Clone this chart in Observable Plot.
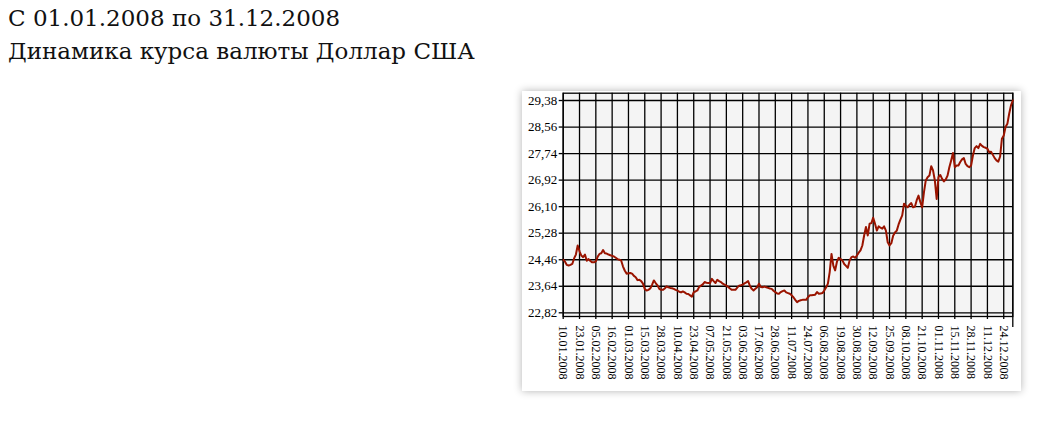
<!DOCTYPE html>
<html><head><meta charset="utf-8">
<script src="https://cdn.jsdelivr.net/npm/d3@7"></script>
<script src="https://cdn.jsdelivr.net/npm/@observablehq/plot@0.6"></script>
<style>
body{margin:0;background:#fff;width:1037px;height:428px;overflow:hidden;position:relative}
.t{position:absolute;left:8px;font-family:Georgia,"DejaVu Serif",serif;font-size:23px;color:#111;white-space:nowrap;line-height:1}
#card{position:absolute;left:522px;top:91px;width:499px;height:300px;background:#fff;box-shadow:0 0 8px rgba(0,0,0,0.3)}
#card svg{display:block}
</style></head><body>
<div class="t" style="top:6.5px">С 01.01.2008 по 31.12.2008</div>
<div class="t" style="top:40px">Динамика курса валюты Доллар США</div>
<div id="card"></div>
<script>
const tickLabels = ["10.01.2008","23.01.2008","05.02.2008","16.02.2008","01.03.2008","15.03.2008","28.03.2008","10.04.2008","23.04.2008","07.05.2008","21.05.2008","03.06.2008","17.06.2008","28.06.2008","11.07.2008","24.07.2008","06.08.2008","19.08.2008","30.08.2008","12.09.2008","25.09.2008","08.10.2008","21.10.2008","01.11.2008","15.11.2008","28.11.2008","11.12.2008","24.12.2008"];
const tickIndex = [0,9,18,27,36,45,54,63,72,81,90,99,108,117,126,135,144,153,162,171,180,189,198,207,216,225,234,243];
const yTicks = [22.82,23.64,24.46,25.28,26.10,26.92,27.74,28.56,29.38];
const rates = [
24.46,24.40,24.30,24.28,24.30,24.33,24.50,24.62,24.90,24.72,
24.59,24.54,24.62,24.43,24.48,24.42,24.38,24.38,24.41,24.55,
24.64,24.66,24.76,24.66,24.65,24.62,24.60,24.58,24.56,24.52,
24.48,24.46,24.43,24.25,24.12,24.03,24.04,24.05,24.03,23.96,
23.92,23.83,23.84,23.80,23.72,23.55,23.51,23.53,23.57,23.68,
23.82,23.74,23.67,23.56,23.53,23.53,23.57,23.64,23.61,23.59,
23.58,23.56,23.53,23.51,23.47,23.45,23.48,23.45,23.41,23.40,
23.36,23.32,23.46,23.48,23.51,23.62,23.66,23.70,23.77,23.75,
23.74,23.74,23.87,23.80,23.74,23.84,23.80,23.77,23.72,23.69,
23.66,23.62,23.57,23.53,23.53,23.53,23.60,23.66,23.67,23.69,
23.73,23.76,23.80,23.65,23.56,23.51,23.56,23.61,23.72,23.62,
23.61,23.63,23.61,23.59,23.57,23.56,23.50,23.46,23.42,23.41,
23.46,23.49,23.51,23.45,23.43,23.41,23.36,23.30,23.22,23.15,
23.19,23.21,23.22,23.22,23.22,23.30,23.36,23.36,23.37,23.38,
23.46,23.41,23.42,23.43,23.51,23.60,23.72,24.08,24.64,24.28,
24.13,24.40,24.52,24.48,24.44,24.33,24.27,24.21,24.44,24.54,
24.56,24.52,24.59,24.68,24.75,24.90,25.21,25.47,25.21,25.57,
25.59,25.76,25.57,25.36,25.49,25.45,25.42,25.49,25.36,25.00,
24.90,24.97,25.20,25.30,25.36,25.55,25.70,25.83,26.19,26.13,
26.08,26.16,26.21,26.08,26.10,26.30,26.44,26.24,26.08,26.55,
26.91,27.01,27.06,27.35,27.22,26.91,26.34,27.01,27.08,26.96,
26.88,26.94,27.06,27.32,27.53,27.76,27.32,27.37,27.37,27.48,
27.56,27.60,27.42,27.35,27.32,27.37,27.68,27.91,27.97,27.91,
28.04,27.98,27.94,27.92,27.89,27.78,27.80,27.70,27.60,27.53,
27.49,27.65,28.20,28.30,28.56,28.66,28.97,29.23,29.38
];
const data = rates.map((v, i) => ({i, v}));
const last = rates.length - 1;
const gridStyle = {stroke: "#000", strokeOpacity: 1, strokeWidth: 1.3};
const chart = Plot.plot({
  width: 499, height: 300,
  marginLeft: 40.7, marginTop: 1.7, marginRight: 8.7, marginBottom: 75,
  x: {domain: [0, last]},
  y: {domain: [22.706, 29.606]},
  style: {fontFamily: '"Liberation Serif", "Times New Roman", serif', fontSize: "12px", color: "#000", background: "transparent", overflow: "visible"},
  marks: [
    Plot.frame({fill: "#f4f4f4", stroke: "none"}),
    Plot.gridX(tickIndex, gridStyle),
    Plot.gridY(yTicks, gridStyle),
    Plot.frame({stroke: "#000", strokeWidth: 1.3}),
    Plot.ruleX([last], {insetBottom: -11, stroke: "#000", strokeWidth: 1.3}),
    Plot.line(data, {x: "i", y: "v", stroke: "#9a1400", strokeWidth: 2}),
    Plot.axisX(tickIndex, {tickFormat: d => tickLabels[tickIndex.indexOf(d)], tickRotate: 90, tickSize: 3, tickPadding: 6, label: null, strokeWidth: 1.3}),
    Plot.axisY(yTicks, {tickFormat: d => d.toFixed(2).replace(".", ","), tickSize: 4, tickPadding: 2, label: null, strokeWidth: 1.3, fontSize: 13})
  ]
});
document.getElementById("card").appendChild(chart);
</script>
</body></html>
